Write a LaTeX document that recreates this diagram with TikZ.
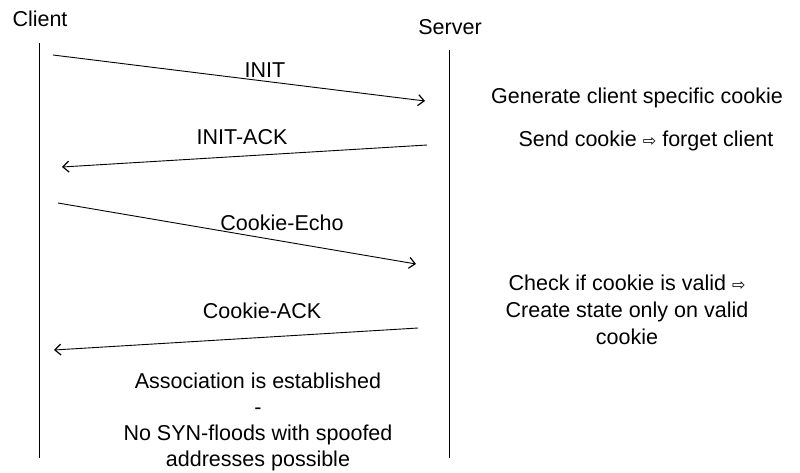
\documentclass[tikz,border=0pt]{standalone}
\usepackage{fontspec}
\setmainfont{Liberation Sans}
\newfontfamily\symfont{DejaVu Sans}
\usetikzlibrary{arrows.meta}
\newcommand{\rarr}{{\symfont\fontsize{16}{18}\selectfont ⇨}}
\begin{document}
\begin{tikzpicture}[x=1pt,y=-1pt,
  lbl/.style={inner sep=0pt, font=\fontsize{21.5}{27}\selectfont, align=center},
  lifeline/.style={line width=0.9pt},
  msg/.style={line width=0.9pt, -{Straight Barb[length=6pt,width=11pt,line width=1.2pt]}}]
  \useasboundingbox (0,0) rectangle (800,472);

  % participants
  \node[lbl] (client) at (40,19) {Client};
  \node[lbl] (server) at (450,27) {Server};

  % lifelines
  \coordinate (ctop) at (39,43);
  \coordinate (cbot) at (39,458);
  \coordinate (stop) at (449,50);
  \coordinate (sbot) at (449,458);
  \draw[lifeline] (ctop) -- (cbot);
  \draw[lifeline] (stop) -- (sbot);

  % message endpoints
  \coordinate (m1a) at (53,55);   \coordinate (m1b) at (425,101);
  \coordinate (m2a) at (427,145); \coordinate (m2b) at (62,167);
  \coordinate (m3a) at (58,203);  \coordinate (m3b) at (416,264);
  \coordinate (m4a) at (418,328); \coordinate (m4b) at (54,350);

  \draw[msg] (m1a) -- (m1b);
  \draw[msg] (m2a) -- (m2b);
  \draw[msg] (m3a) -- (m3b);
  \draw[msg] (m4a) -- (m4b);

  % message labels
  \node[lbl] (l1) at (265,70) {INIT};
  \node[lbl] (l2) at (242,137) {INIT-ACK};
  \node[lbl] (l3) at (282,223) {Cookie-Echo};
  \node[lbl] (l4) at (262,311) {Cookie-ACK};

  % server-side notes
  \node[lbl] (gen) at (637,98) {Generate client specific cookie};
  \node[lbl] (send) at (646,141) {Send cookie \rarr{} forget client};
  \node[lbl] (check) at (627,310) {Check if cookie is valid \rarr\\Create state only on valid\\cookie};

  % outcome
  \node[lbl, font=\fontsize{21.5}{26}\selectfont] (assoc) at (258,422)
    {Association is established\\-\\No SYN-floods with spoofed\\addresses possible};
\end{tikzpicture}
\end{document}
